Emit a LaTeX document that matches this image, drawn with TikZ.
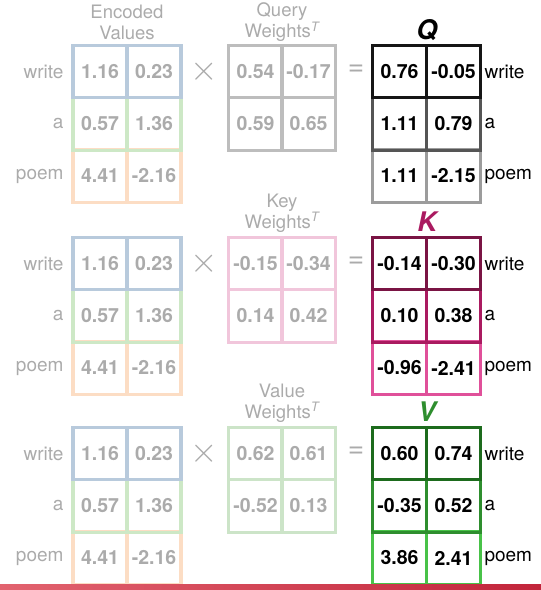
\documentclass[tikz,border=0pt]{standalone}
\usepackage{fontspec}
\setmainfont{TeX Gyre Heros}
\usetikzlibrary{calc}
\definecolor{fadetxt}{HTML}{ABABAB}
\definecolor{encA}{HTML}{B8CADC}
\definecolor{encB}{HTML}{CDE8C6}
\definecolor{encC}{HTML}{FCDDC4}
\definecolor{qwc}{HTML}{BDBDBD}
\definecolor{kwc}{HTML}{F1C6DB}
\definecolor{vwc}{HTML}{CCE4C8}
\definecolor{qA}{HTML}{151515}
\definecolor{qB}{HTML}{555555}
\definecolor{qC}{HTML}{9C9C9C}
\definecolor{kA}{HTML}{7A1444}
\definecolor{kB}{HTML}{AA1A60}
\definecolor{kC}{HTML}{E0509A}
\definecolor{vA}{HTML}{1D6B1D}
\definecolor{vB}{HTML}{2E8E2E}
\definecolor{vC}{HTML}{48C248}
\definecolor{barL}{HTML}{E2636F}
\definecolor{barR}{HTML}{C2253B}
\newcommand\cellrow[8]{%
  \node[cell,draw=#5,text=#6] (#1-1) at (#2,#4) {#7};
  \node[cell,draw=#5,text=#6] (#1-2) at (#3,#4) {#8};}
\newcommand\bigtimes{\scalebox{1.7}{$\times$}}
\tikzset{
  cell/.style={line width=3.3pt, minimum width=54pt, minimum height=52.5pt,
    inner sep=0pt, font=\fontsize{19.5}{21}\selectfont\bfseries},
  lblL/.style={anchor=east, text=fadetxt, font=\fontsize{19}{20}\selectfont},
  lblR/.style={anchor=west, text=black, font=\fontsize{19}{20}\selectfont},
  hdr/.style={align=center, text=fadetxt, font=\fontsize{18.5}{21}\selectfont},
  opsign/.style={text=fadetxt, font=\fontsize{28}{28}\selectfont},
  timessign/.style={text=fadetxt, font=\fontsize{20}{20}\selectfont},
  reslbl/.style={font=\fontsize{27}{27}\selectfont\bfseries\itshape},
}
\begin{document}
\begin{tikzpicture}[x=1pt,y=-1pt]
\useasboundingbox (0,0) rectangle (541,590);
% Q section (T=45)
\node[hdr] (hE1) at (127,22) {Encoded\\Values};
\cellrow{e1c}{100}{154}{176}{encC}{fadetxt}{4.41}{-2.16}
\cellrow{e1b}{100}{154}{124}{encB}{fadetxt}{0.57}{1.36}
\cellrow{e1a}{100}{154}{71.5}{encA}{fadetxt}{1.16}{0.23}
\node[lblL] (l1a) at (67,72) {write};
\node[lblL] (l1b) at (67,124) {a};
\node[lblL] (l1c) at (67,176) {poem};
\node[timessign] (x1) at (204,72) {\bigtimes};
\node[hdr] (hW1) at (282,22) {Query\\Weights\textsuperscript{\itshape T}};
\cellrow{w1b}{255.5}{308.5}{124}{qwc}{fadetxt}{0.59}{0.65}
\cellrow{w1a}{255.5}{308.5}{71.5}{qwc}{fadetxt}{0.54}{-0.17}
\node[opsign] (eq1) at (356,70) {=};
\node[reslbl,text=black] (Q) at (427,30) {Q};
\cellrow{r1c}{399.5}{453.5}{176}{qC}{black}{1.11}{-2.15}
\cellrow{r1b}{399.5}{453.5}{124}{qB}{black}{1.11}{0.79}
\cellrow{r1a}{399.5}{453.5}{71.5}{qA}{black}{0.76}{-0.05}
\node[lblR] (m1a) at (481,72) {write};
\node[lblR] (m1b) at (481,124) {a};
\node[lblR] (m1c) at (481,176) {poem};
% K section (T=237)
\cellrow{e2c}{100}{154}{368}{encC}{fadetxt}{4.41}{-2.16}
\cellrow{e2b}{100}{154}{316}{encB}{fadetxt}{0.57}{1.36}
\cellrow{e2a}{100}{154}{263.5}{encA}{fadetxt}{1.16}{0.23}
\node[lblL] (l2a) at (67,264) {write};
\node[lblL] (l2b) at (67,316) {a};
\node[lblL] (l2c) at (67,368) {poem};
\node[timessign] (x2) at (204,264) {\bigtimes};
\node[hdr] (hW2) at (282,213) {Key\\Weights\textsuperscript{\itshape T}};
\cellrow{w2b}{255.5}{308.5}{316}{kwc}{fadetxt}{0.14}{0.42}
\cellrow{w2a}{255.5}{308.5}{263.5}{kwc}{fadetxt}{-0.15}{-0.34}
\node[opsign] (eq2) at (356,262) {=};
\node[reslbl,text=kB] (K) at (427,222) {K};
\cellrow{r2c}{399.5}{453.5}{368}{kC}{black}{-0.96}{-2.41}
\cellrow{r2b}{399.5}{453.5}{316}{kB}{black}{0.10}{0.38}
\cellrow{r2a}{399.5}{453.5}{263.5}{kA}{black}{-0.14}{-0.30}
\node[lblR] (m2a) at (481,264) {write};
\node[lblR] (m2b) at (481,316) {a};
\node[lblR] (m2c) at (481,368) {poem};
% V section (T=427)
\cellrow{e3c}{100}{154}{558}{encC}{fadetxt}{4.41}{-2.16}
\cellrow{e3b}{100}{154}{506}{encB}{fadetxt}{0.57}{1.36}
\cellrow{e3a}{100}{154}{453.5}{encA}{fadetxt}{1.16}{0.23}
\node[lblL] (l3a) at (67,454) {write};
\node[lblL] (l3b) at (67,506) {a};
\node[lblL] (l3c) at (67,558) {poem};
\node[timessign] (x3) at (204,454) {\bigtimes};
\node[hdr] (hW3) at (282,403) {Value\\Weights\textsuperscript{\itshape T}};
\cellrow{w3b}{255.5}{308.5}{506}{vwc}{fadetxt}{-0.52}{0.13}
\cellrow{w3a}{255.5}{308.5}{453.5}{vwc}{fadetxt}{0.62}{0.61}
\node[opsign] (eq3) at (356,452) {=};
\node[reslbl,text=vB] (V) at (427,412) {V};
\cellrow{r3c}{399.5}{453.5}{558}{vC}{black}{3.86}{2.41}
\cellrow{r3b}{399.5}{453.5}{506}{vB}{black}{-0.35}{0.52}
\cellrow{r3a}{399.5}{453.5}{453.5}{vA}{black}{0.60}{0.74}
\node[lblR] (m3a) at (481,454) {write};
\node[lblR] (m3b) at (481,506) {a};
\node[lblR] (m3c) at (481,558) {poem};
% bottom bar
\shade[left color=barL, right color=barR] (0,584.5) rectangle (541,590);
\end{tikzpicture}
\end{document}
